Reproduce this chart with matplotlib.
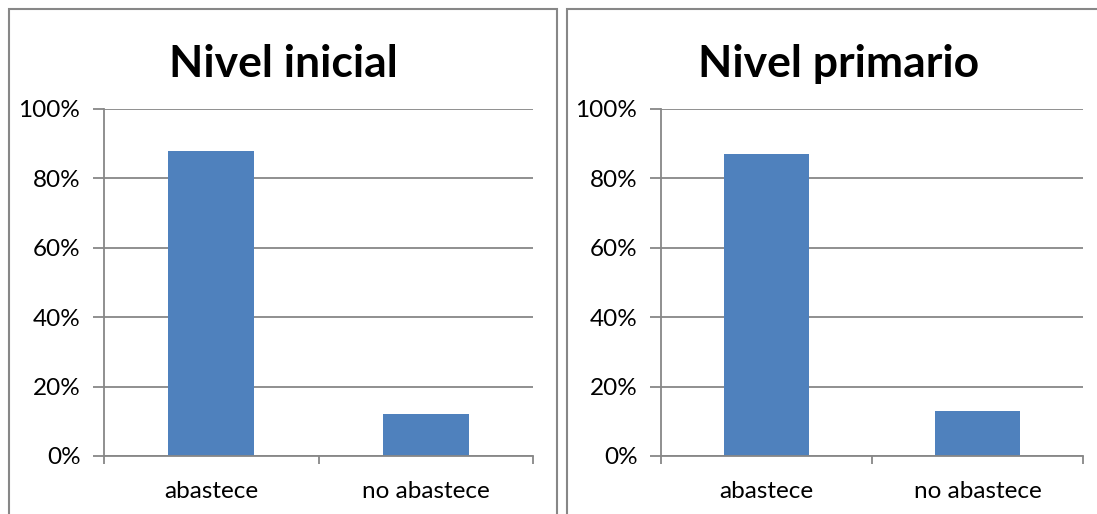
import matplotlib.pyplot as plt
from matplotlib.patches import Rectangle
from matplotlib.ticker import PercentFormatter

# datos
categorias = ['abastece', 'no abastece']
titulos = ['Nivel inicial', 'Nivel primario']
inicial = [88, 12]
primario = [87, 13]
y_ticks = [0, 20, 40, 60, 80, 100]

W, H = 1097, 514
plt.rcParams['font.family'] = ['Lato', 'DejaVu Sans']

fig = plt.figure(figsize=(W / 100, H / 100), dpi=100)
fig.patch.set_facecolor('white')

# marcos de cada grafico (px)
marcos = [(9, 9, 557, 520), (567, 9, 1110, 520)]
ejes = [(104, 109, 533, 456), (661, 109, 1083, 456)]
gris = '#878787'

for i, valores in enumerate([inicial, primario]):
    fx0, fy0, fx1, fy1 = marcos[i]
    fig.patches.append(Rectangle((fx0 / W, 1 - fy1 / H), (fx1 - fx0) / W, (fy1 - fy0) / H,
                                 transform=fig.transFigure, fill=False,
                                 edgecolor=gris, linewidth=1.5, zorder=0))
    fig.text((fx0 + fx1) / 2 / W, 1 - 64 / H, titulos[i], ha='center', va='center',
             fontsize=32, fontweight='bold')

    x0, y0, x1, y1 = ejes[i]
    ax = fig.add_axes([x0 / W, 1 - y1 / H, (x1 - x0) / W, (y1 - y0) / H])
    ax.bar(range(len(categorias)), valores, width=0.4, color='#4F81BD', zorder=2)
    ax.set_xlim(-0.5, len(categorias) - 0.5)
    ax.set_ylim(0, 100)
    ax.set_yticks(y_ticks)
    ax.yaxis.set_major_formatter(PercentFormatter(decimals=0))
    ax.grid(axis='y', color=gris, linewidth=1.3, zorder=1)
    ax.set_xticks([-0.5, 0.5, 1.5])
    ax.set_xticklabels([])
    ax.set_xticks(range(len(categorias)), minor=True)
    ax.set_xticklabels(categorias, minor=True)
    ax.tick_params(axis='x', which='major', length=6, color=gris, width=1.3)
    ax.tick_params(axis='x', which='minor', length=0, pad=18, labelsize=17.5)
    ax.tick_params(axis='y', length=8, color=gris, width=1.3, pad=9, labelsize=17.5)
    for s in ['top', 'right']:
        ax.spines[s].set_visible(False)
    for s in ['left', 'bottom']:
        ax.spines[s].set_color(gris)
        ax.spines[s].set_linewidth(1.3)

fig.savefig('out.png', dpi=100)
